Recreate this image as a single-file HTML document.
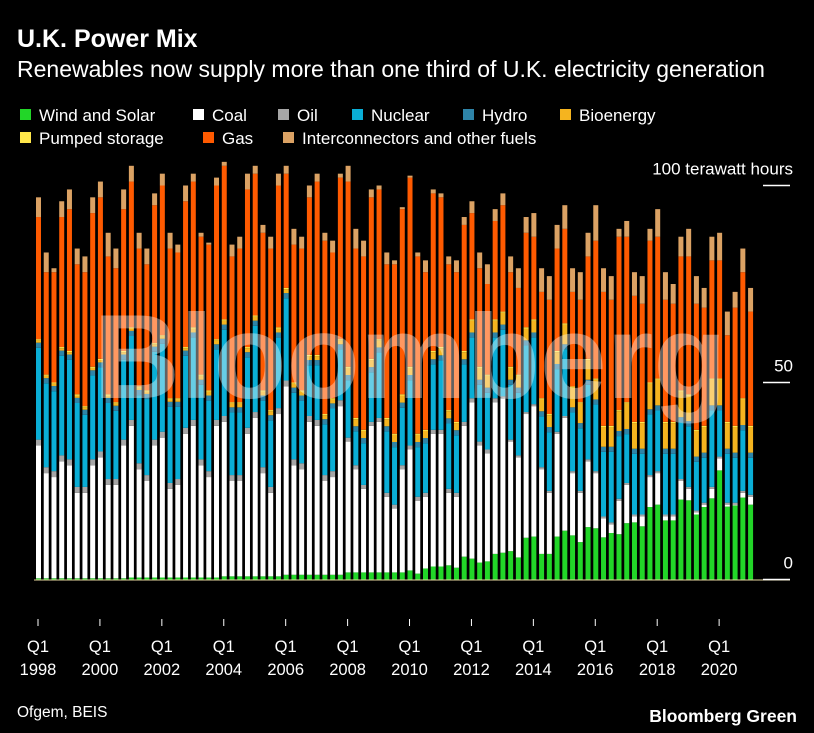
<!DOCTYPE html>
<html><head><meta charset="utf-8">
<style>
body{margin:0;background:#000;width:814px;height:733px;overflow:hidden;font-family:"Liberation Sans",sans-serif;color:#fff;}
svg{position:absolute;left:0;top:0;}
</style></head>
<body>
<svg id="chart" width="814" height="733">
<text x="17" y="47" font-size="25" font-weight="bold" fill="#fff">U.K. Power Mix</text>
<text x="17" y="77" font-size="23" fill="#fff">Renewables now supply more than one third of U.K. electricity generation</text>
<g id="legend" font-size="17" fill="#fff"></g>
<g id="bars"></g>
<g id="axes"></g>
<text x="410" y="398" font-size="120" font-weight="bold" fill="#fff" fill-opacity="0.38" text-anchor="middle">Bloomberg</text>
<text x="17" y="717" font-size="15.5" fill="#fff">Ofgem, BEIS</text>
<text x="797" y="722" font-size="17.5" font-weight="bold" fill="#fff" text-anchor="end">Bloomberg Green</text>
</svg>
<script>
const wind=[0.3,0.3,0.3,0.3,0.3,0.3,0.3,0.3,0.3,0.3,0.3,0.3,0.5,0.5,0.5,0.5,0.5,0.5,0.5,0.5,0.5,0.5,0.5,0.5,0.8,0.8,0.8,0.8,0.8,0.8,0.8,0.8,1.2,1.2,1.2,1.2,1.2,1.2,1.2,1.2,1.8,1.8,1.8,1.8,1.8,1.8,1.8,1.8,2.3,1.5,2.8,3.3,3.3,3.6,3.0,5.8,5.3,4.3,4.6,6.5,6.8,7.2,5.6,10.6,10.9,6.5,6.5,10.9,12.4,11.2,9.5,13.3,13.0,10.7,11.8,11.5,14.3,14.5,13.5,18.4,19,15,15,20.3,20.1,16.5,18.4,20.6,27.7,18.5,18.8,20.8,19];
const coal=[33.7,26.7,25.7,29.7,28.7,21.7,21.7,28.7,30.7,23.7,23.7,33.7,38.5,27.5,24.5,33.5,35.5,22.5,23.5,36.5,38.5,28.5,25.5,38.5,39.2,24.2,24.2,36.2,40.2,26.2,21.2,41.2,47.8,27.8,26.8,38.8,37.8,23.8,24.8,42.8,33.2,26.2,21.2,37.2,38.2,19.2,16.2,26.2,30.7,18.5,18.2,33.7,33.7,18.4,18,33.2,39.7,29.7,27.4,38.5,39.2,27.8,25.4,31.4,33.1,21.5,15.5,26.1,28.6,15.8,12.5,16.7,14,4.8,2.2,8.5,9.7,1.5,2.5,7.6,8,1,1,4.7,2.9,0.5,0.6,2.4,3,0.5,0.2,1.2,2];
const oil=[1.5,1.5,1.5,1.5,1.5,1.5,1.5,1.5,1.5,1.5,1.5,1.5,1.5,1.5,1.5,1.5,1.5,1.5,1.5,1.5,1.5,1.5,1.5,1.5,1.5,1.5,1.5,1.5,1.5,1.5,1.5,1.5,1.5,1.5,1.5,1.5,1.5,1.5,1.5,1.5,1,1,1,1,1,1,1,1,1,1,1,1,1,1,1,1,1,1,1,1,0.5,0.5,0.5,0.5,0.5,0.5,0.5,0.5,0.5,0.5,0.5,0.5,0.5,0.5,0.5,0.5,0.5,0.5,0.5,0.5,0.5,0.5,0.5,0.5,0.5,0.5,0.5,0.5,0.5,0.5,0.5,0.5,0.5];
const nuclear=[23.3,21.3,20.3,25.3,25.3,21.3,18.3,21.3,21.3,19.3,17.3,20.3,21.3,17.3,19.3,22.3,22.3,19.3,18.3,18.3,20.9,18.9,17.9,17.9,21.9,15.9,15.9,17.9,21.9,16.9,16.9,17.9,20.9,16.9,15.9,12.9,13.9,12.9,15.9,12.9,14.6,8.6,10.6,12.6,16.6,15.6,14.6,14.6,16.6,12.6,12.6,16.6,17.6,16.6,14.6,14.6,15.4,14.4,14.4,15.4,16.9,13.9,15.9,16.9,16.9,12.9,14.9,15.9,16.9,14.9,15.9,18.9,16.9,16.4,17.9,15.9,12.4,15.4,15.4,15.4,15.4,15.4,15.4,14.4,15.4,12.4,11.4,19.4,11.7,12.4,11.4,15.4,9.4];
const hydro=[1.3,1.3,1.3,1.3,1.3,1.3,1.3,1.3,1.3,1.3,1.3,1.3,1.3,1.3,1.3,1.3,1.3,1.3,1.3,1.3,1.3,1.3,1.3,1.3,1.3,1.3,1.3,1.3,1.3,1.3,1.3,1.3,1.3,1.3,1.3,1.3,1.3,1.3,1.3,1.3,1.3,1.3,1.3,1.3,1.3,1.3,1.3,1.3,1.3,1.3,1.3,1.3,1.3,1.3,1.3,1.3,1.3,1.3,1.3,1.3,1.3,1.3,1.3,1.3,1.3,1.3,1.3,1.3,1.3,1.3,1.3,1.3,1.3,1.3,1.3,1.3,1.3,1.3,1.3,1.3,1.3,1.3,1.3,1.3,1.3,1.3,1.3,1.3,1.3,1.3,1.3,1.3,1.3];
const bio=[0.6,0.6,0.6,0.6,0.6,0.6,0.6,0.6,0.6,0.6,0.6,0.6,0.6,0.6,0.6,0.6,0.6,0.6,0.6,0.6,1,1,1,1,1,1,1,1,1,1,1,1,1,1,1,1,1,1,1,1,1.8,1.8,1.8,1.8,1.8,1.8,1.8,1.8,1.8,1.8,1.8,1.8,1.8,1.8,1.8,1.8,3,3,3,3,3,3,3,3,3,3,3,3,5,5,5,5,5,5,5,5,6.5,6.5,6.5,6.5,6.5,6.5,6.5,6.5,6.5,6.5,6.5,6.5,6.5,6.5,6.5,6.5,6.5];
const pumped=[0.3,0.3,0.3,0.3,0.3,0.3,0.3,0.3,0.3,0.3,0.3,0.3,0.3,0.3,0.3,0.3,0.3,0.3,0.3,0.3,0.3,0.3,0.3,0.3,0.3,0.3,0.3,0.3,0.3,0.3,0.3,0.3,0.3,0.3,0.3,0.3,0.3,0.3,0.3,0.3,0.3,0.3,0.3,0.3,0.3,0.3,0.3,0.3,0.3,0.3,0.3,0.3,0.3,0.3,0.3,0.3,0.3,0.3,0.3,0.3,0.3,0.3,0.3,0.3,0.3,0.3,0.3,0.3,0.3,0.3,0.3,0.3,0.3,0.3,0.3,0.3,0.3,0.3,0.3,0.3,0.3,0.3,0.3,0.3,0.3,0.3,0.3,0.3,0.3,0.3,0.3,0.3,0.3];
const gas=[31,26,28,33,36,33,34,39,41,35,34,36,37,35,32,35,38,38,37,37,37,35,37,39,39,37,39,40,36,40,41,36,29,35,36,40,44,44,37,41,47,43,44,41,38,39,43,47,48,45,40,40,38,37,38,32,27,25,23,25,27,24,22,24,21,27,29,26,24,24,26,26,35,34,32,44,42,32,30,36,36,31,30,34,35,32,30,30,30,22,30,32,29];
const inter=[5,5,1,4,5,4,4,4,4,6,5,5,4,4,4,3,3,4,2,4,2,1,0.5,2,1,3,3,4,2,2,3,3,2,4,3,3,2,2,3,1,4,5,4,2,1,3,1,0.5,0.5,1,3,1,1,2,3,2,3,4,5,3,3,4,5,4,6,6,6,6,6,6,7,6,9,6,6,2,4,6,7,3,7,7,5,5,7,7,5,6,7,6,4,6,6];
const yTicks=[0,50,100];
const yTickLabels=["0","50","100 terawatt hours"];
const xTickYears=["1998","2000","2002","2004","2006","2008","2010","2012","2014","2016","2018","2020"];

const series=[
 {name:"Wind and Solar",key:"wind-solar",data:wind,color:"#22d628"},
 {name:"Coal",key:"coal",data:coal,color:"#ffffff"},
 {name:"Oil",key:"oil",data:oil,color:"#a6a6a6"},
 {name:"Nuclear",key:"nuclear",data:nuclear,color:"#0aaed6"},
 {name:"Hydro",key:"hydro",data:hydro,color:"#2e84a8"},
 {name:"Bioenergy",key:"bioenergy",data:bio,color:"#f5b41f"},
 {name:"Pumped storage",key:"pumped-storage",data:pumped,color:"#ffe74a"},
 {name:"Gas",key:"gas",data:gas,color:"#ff5a00"},
 {name:"Interconnectors and other fuels",key:"interconnectors",data:inter,color:"#dba264"}
];
const NS="http://www.w3.org/2000/svg";
const y0=579.5, pxPer=3.94, x0=38.5, step=7.74, bw=5;
function yScale(v){return y0-v*pxPer;}
function xScale(i){return x0+i*step;}
function mk(tag,attrs,parent){const e=document.createElementNS(NS,tag);for(const k in attrs)e.setAttribute(k,attrs[k]);parent.appendChild(e);return e;}

const lg=document.getElementById('legend');
const legPos=[[20,121],[193,121],[278,121],[352,121],[463,121],[560,121],[20,144],[203,144],[283,144]];
series.forEach((s,k)=>{
  const [lx,ly]=legPos[k];
  const g=mk('g',{},lg);
  
  
  mk('rect',{x:lx,y:ly-12,width:11,height:11,fill:s.color},g);
  const t=mk('text',{x:lx+19,y:ly},g);t.textContent=s.name;
});

const bars=document.getElementById('bars');
const n=wind.length;
for(let i=0;i<n;i++){
  let cum=0;
  const g=mk('g',{},bars);
  
  
  series.forEach(s=>{
    const v=s.data[i];
    const top=yScale(cum+v), bot=yScale(cum);
    const r=mk('rect',{x:xScale(i)-bw/2,y:top,width:bw,height:Math.max(0,bot-top),fill:s.color},g);
    
    
    cum+=v;
  });
}

const ax=document.getElementById('axes');
const base=mk('line',{x1:34,x2:790,y1:y0+0.5,y2:y0+0.5,stroke:"#e8d9a0","stroke-width":1},ax);


yTicks.forEach((v,k)=>{
  const y=yScale(v);
  const l=mk('line',{x1:763,x2:790,y1:y,y2:y,stroke:"#fff","stroke-width":1.5},ax);
  
  
  const t=mk('text',{x:793,y:y-11,"font-size":17,fill:"#fff","text-anchor":"end"},ax);
  t.textContent=yTickLabels[k];
  
  
});
xTickYears.forEach((yr,k)=>{
  const x=xScale(k*8)-0.5;
  const l=mk('line',{x1:x,x2:x,y1:619,y2:626,stroke:"#fff","stroke-width":1},ax);
  
  
  const t1=mk('text',{x:x,y:652,"font-size":16.5,fill:"#fff","text-anchor":"middle"},ax);
  t1.textContent="Q1";
  
  
  const t2=mk('text',{x:x,y:675,"font-size":16.5,fill:"#fff","text-anchor":"middle"},ax);
  t2.textContent=yr;
  
  
});
</script>
</body></html>
